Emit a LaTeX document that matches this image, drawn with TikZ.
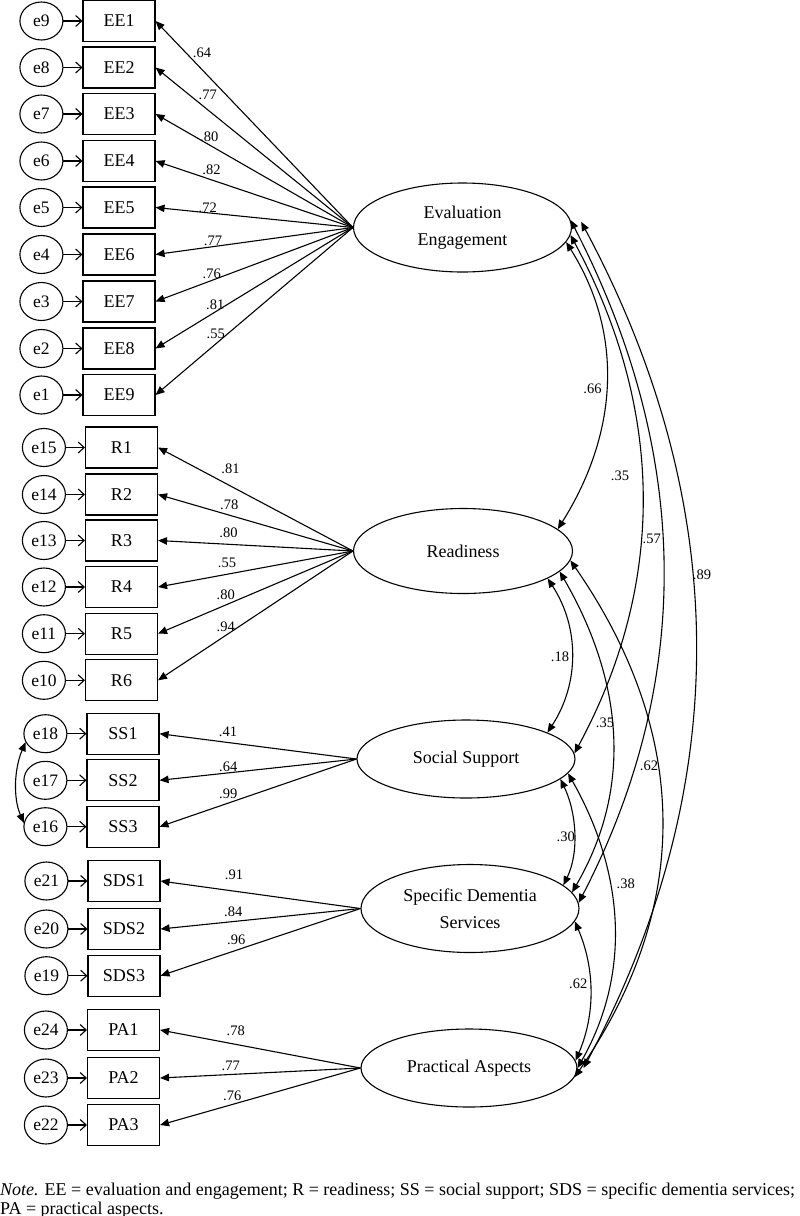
\documentclass[tikz,border=0pt]{standalone}
\usepackage{fontspec}
\setmainfont{Liberation Serif}
\usepackage{tikz}
\usetikzlibrary{arrows.meta,positioning,shapes.geometric}
\tikzset{
  obs/.style  = {draw, line width=1.1pt, minimum width=72pt, minimum height=41pt,
                 inner sep=0pt, font=\fontsize{18}{20}\selectfont},
  err/.style  = {draw, ellipse, line width=1.1pt, minimum width=43pt, minimum height=38pt,
                 inner sep=0pt, font=\fontsize{17.5}{20}\selectfont},
  lat/.style  = {draw, ellipse, line width=1.1pt, inner sep=0pt, align=center,
                 font=\fontsize{18}{27}\selectfont},
  coef/.style = {inner sep=0pt, font=\fontsize{14.5}{16}\selectfont},
  note/.style = {inner sep=0pt, anchor=base west, font=\fontsize{18}{21}\selectfont},
  load/.style = {-{Triangle[length=9pt,width=7.5pt]}, line width=1.1pt},
  eps/.style  = {-{Straight Barb[length=6pt,width=11pt]}, line width=1.1pt},
  cov/.style  = {{Triangle[length=9pt,width=7.5pt]}-{Triangle[length=9pt,width=7.5pt]},
                 line width=1.1pt},
}

\begin{document}
\begin{tikzpicture}[x=1pt,y=-1pt]
  \useasboundingbox (0,0) rectangle (800,1216);
  % latent factors
  \node[lat, minimum width=218pt, minimum height=89pt] (EE)  at (462.5,227.5) {Evaluation\\Engagement};
  \node[lat, minimum width=219pt, minimum height=85pt] (R)   at (463,551) {Readiness};
  \node[lat, minimum width=218pt, minimum height=78pt] (SS)  at (466,759) {Social Support};
  \node[lat, minimum width=218pt, minimum height=88pt] (SDS) at (470,908.5) {Specific Dementia\\Services};
  \node[lat, minimum width=216pt, minimum height=78pt] (PA)  at (469,1068) {Practical Aspects};
  % indicators
  \node[obs] (EE1) at (119,21) {EE1};
  \node[obs] (EE2) at (119,67.5) {EE2};
  \node[obs] (EE3) at (119,114) {EE3};
  \node[obs] (EE4) at (119,161) {EE4};
  \node[obs] (EE5) at (119,207.5) {EE5};
  \node[obs] (EE6) at (119,254.5) {EE6};
  \node[obs] (EE7) at (119,301.5) {EE7};
  \node[obs] (EE8) at (119,348.5) {EE8};
  \node[obs] (EE9) at (119,395) {EE9};
  \node[obs] (R1) at (121.5,447.5) {R1};
  \node[obs] (R2) at (121.5,494.5) {R2};
  \node[obs] (R3) at (121.5,540.5) {R3};
  \node[obs] (R4) at (121.5,587) {R4};
  \node[obs] (R5) at (121.5,633.7) {R5};
  \node[obs] (R6) at (121.5,680.3) {R6};
  \node[obs] (SS1) at (123,733.7) {SS1};
  \node[obs] (SS2) at (123,780.3) {SS2};
  \node[obs] (SS3) at (123,826.7) {SS3};
  \node[obs] (SDS1) at (124,881) {SDS1};
  \node[obs] (SDS2) at (124,929) {SDS2};
  \node[obs] (SDS3) at (124,975.7) {SDS3};
  \node[obs] (PA1) at (123.5,1030) {PA1};
  \node[obs] (PA2) at (123.5,1078) {PA2};
  \node[obs] (PA3) at (123.5,1125) {PA3};
  % error terms
  \node[err, left=19pt of EE1] (e9) {e9};
  \node[err, left=19pt of EE2] (e8) {e8};
  \node[err, left=19pt of EE3] (e7) {e7};
  \node[err, left=19pt of EE4] (e6) {e6};
  \node[err, left=19pt of EE5] (e5) {e5};
  \node[err, left=19pt of EE6] (e4) {e4};
  \node[err, left=19pt of EE7] (e3) {e3};
  \node[err, left=19pt of EE8] (e2) {e2};
  \node[err, left=19pt of EE9] (e1) {e1};
  \node[err, left=19pt of R1] (e15) {e15};
  \node[err, left=19pt of R2] (e14) {e14};
  \node[err, left=19pt of R3] (e13) {e13};
  \node[err, left=19pt of R4] (e12) {e12};
  \node[err, left=19pt of R5] (e11) {e11};
  \node[err, left=19pt of R6] (e10) {e10};
  \node[err, left=19pt of SS1] (e18) {e18};
  \node[err, left=19pt of SS2] (e17) {e17};
  \node[err, left=19pt of SS3] (e16) {e16};
  \node[err, left=19pt of SDS1] (e21) {e21};
  \node[err, left=19pt of SDS2] (e20) {e20};
  \node[err, left=19pt of SDS3] (e19) {e19};
  \node[err, left=19pt of PA1] (e24) {e24};
  \node[err, left=19pt of PA2] (e23) {e23};
  \node[err, left=19pt of PA3] (e22) {e22};
  \draw[eps] (e9) -- (EE1);
  \draw[eps] (e8) -- (EE2);
  \draw[eps] (e7) -- (EE3);
  \draw[eps] (e6) -- (EE4);
  \draw[eps] (e5) -- (EE5);
  \draw[eps] (e4) -- (EE6);
  \draw[eps] (e3) -- (EE7);
  \draw[eps] (e2) -- (EE8);
  \draw[eps] (e1) -- (EE9);
  \draw[eps] (e15) -- (R1);
  \draw[eps] (e14) -- (R2);
  \draw[eps] (e13) -- (R3);
  \draw[eps] (e12) -- (R4);
  \draw[eps] (e11) -- (R5);
  \draw[eps] (e10) -- (R6);
  \draw[eps] (e18) -- (SS1);
  \draw[eps] (e17) -- (SS2);
  \draw[eps] (e16) -- (SS3);
  \draw[eps] (e21) -- (SDS1);
  \draw[eps] (e20) -- (SDS2);
  \draw[eps] (e19) -- (SDS3);
  \draw[eps] (e24) -- (PA1);
  \draw[eps] (e23) -- (PA2);
  \draw[eps] (e22) -- (PA3);
  \draw[cov] (e18.203) .. controls +(-11,26) and +(-11,-26) .. (e16.170);
  % loadings
  \draw[load] (EE.west) -- (EE1.east);
  \draw[load] (EE.west) -- (EE2.east);
  \draw[load] (EE.west) -- (EE3.east);
  \draw[load] (EE.west) -- (EE4.east);
  \draw[load] (EE.west) -- (EE5.east);
  \draw[load] (EE.west) -- (EE6.east);
  \draw[load] (EE.west) -- (EE7.east);
  \draw[load] (EE.west) -- (EE8.east);
  \draw[load] (EE.west) -- (EE9.east);
  \draw[load] (R.west) -- (R1.east);
  \draw[load] (R.west) -- (R2.east);
  \draw[load] (R.west) -- (R3.east);
  \draw[load] (R.west) -- (R4.east);
  \draw[load] (R.west) -- (R5.east);
  \draw[load] (R.west) -- (R6.east);
  \draw[load] (SS.west) -- (SS1.east);
  \draw[load] (SS.west) -- (SS2.east);
  \draw[load] (SS.west) -- (SS3.east);
  \draw[load] (SDS.west) -- (SDS1.east);
  \draw[load] (SDS.west) -- (SDS2.east);
  \draw[load] (SDS.west) -- (SDS3.east);
  \draw[load] (PA.west) -- (PA1.east);
  \draw[load] (PA.west) -- (PA2.east);
  \draw[load] (PA.west) -- (PA3.east);
  \node[coef] (cEE1) at (202,52.5) {.64};
  \node[coef] (cEE2) at (207.8,95.3) {.77};
  \node[coef] (cEE3) at (209.3,136.3) {.80};
  \node[coef] (cEE4) at (211.5,169.7) {.82};
  \node[coef] (cEE5) at (207.8,207.3) {.72};
  \node[coef] (cEE6) at (213,240.5) {.77};
  \node[coef] (cEE7) at (211.7,273.7) {.76};
  \node[coef] (cEE8) at (215.3,304.7) {.81};
  \node[coef] (cEE9) at (215.7,333.8) {.55};
  \node[coef] (cR1) at (230.5,468.3) {.81};
  \node[coef] (cR2) at (229.2,505) {.78};
  \node[coef] (cR3) at (228.5,533) {.80};
  \node[coef] (cR4) at (227,563) {.55};
  \node[coef] (cR5) at (225.8,595) {.80};
  \node[coef] (cR6) at (225.8,626.3) {.94};
  \node[coef] (cSS1) at (228,732.3) {.41};
  \node[coef] (cSS2) at (228.3,767.2) {.64};
  \node[coef] (cSS3) at (228.3,793.3) {.99};
  \node[coef] (cSDS1) at (234,874.3) {.91};
  \node[coef] (cSDS2) at (233.3,911.8) {.84};
  \node[coef] (cSDS3) at (236.3,939.5) {.96};
  \node[coef] (cPA1) at (235.8,1030.5) {.78};
  \node[coef] (cPA2) at (230.8,1066.3) {.77};
  \node[coef] (cPA3) at (232.2,1095.7) {.76};
  % factor covariances
  \draw[cov] (EE.-8) .. controls +(59,94) and +(59,-94) .. (R.13);
  \draw[cov] (EE.-4) .. controls +(93,172) and +(93,-172) .. (SS.3);
  \draw[cov] (EE.4) .. controls +(118,228) and +(118,-228) .. (SDS.3);
  \draw[cov] ([xshift=10pt]EE.3) .. controls +(151,282) and +(151,-282) .. ([xshift=6pt]PA.0);
  \draw[cov] (R.-18) .. controls +(32,49) and +(32,-49) .. (SS.18);
  \draw[cov] (R.-12) .. controls +(62,107) and +(62,-107) .. (SDS.9);
  \draw[cov] (R.-5) .. controls +(119,172) and +(119,-172) .. (PA.-5);
  \draw[cov] (SS.-12) .. controls +(16,33) and +(16,-33) .. (SDS.14);
  \draw[cov] (SS.-8) .. controls +(55,97) and +(55,-97) .. (PA.0);
  \draw[cov] (SDS.-7) .. controls +(20,47) and +(20,-47) .. (PA.4);
  \node[coef] (rEER)   at (592.5,388.3) {.66};
  \node[coef] (rEESS)  at (620,476) {.35};
  \node[coef] (rEESDS) at (651.7,539) {.57};
  \node[coef] (rEEPA)  at (702,575) {.89};
  \node[coef] (rRSS)   at (560,656.7) {.18};
  \node[coef] (rRSDS)  at (605,722.5) {.35};
  \node[coef] (rRPA)   at (649,765.8) {.62};
  \node[coef] (rSSSDS) at (565.8,837) {.30};
  \node[coef] (rSSPA)  at (625.8,884) {.38};
  \node[coef] (rSDSPA) at (578.3,983.8) {.62};
  % note
  \node[note] (note1) at (0,1195) {\textit{Note.} EE = evaluation and engagement; R = readiness; SS = social support; SDS = specific dementia services;};
  \node[note] (note2) at (0,1214) {PA = practical aspects.};
\end{tikzpicture}
\end{document}
